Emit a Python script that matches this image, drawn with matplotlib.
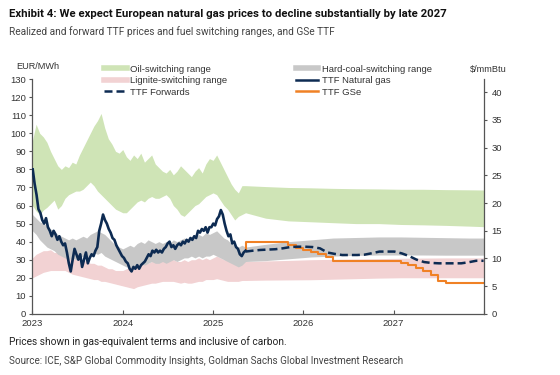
import matplotlib
matplotlib.use("Agg")
import matplotlib.pyplot as plt
import matplotlib.dates as mdates
from matplotlib.lines import Line2D
from matplotlib import font_manager
import numpy as np
import pandas as pd

# ---------------- data ----------------
# realized TTF (EUR/MWh), roughly weekly from Jan-2023 to mid-May 2025
ttf_start, ttf_end = "2023-01-02", "2025-05-12"
ttf_values = [80, 72, 66, 58, 56, 52, 50, 53, 48, 46, 43, 46, 44, 41, 43, 40, 38, 39, 34, 28,
              23.5, 30, 36, 33, 30, 33, 26, 30, 34, 28, 31, 33, 32, 35, 37, 46, 50, 55, 52, 50,
              47, 45, 42, 41, 38, 36, 34, 32, 31, 29, 28, 25, 23.5, 26, 25, 27, 25, 27, 28, 29,
              31, 33, 32, 35, 34, 35.5, 34, 35, 34, 36, 37, 39, 40, 37, 38, 36, 38, 39, 38, 40,
              39, 41, 40, 42, 41, 43, 42, 46, 45, 47, 46, 48, 45, 48, 48, 50, 49, 52.5, 54, 57.5,
              55, 50, 46, 43, 44, 39, 40, 37, 36, 33, 32, 34, 35]

# historical switching ranges (EUR/MWh), 60 points Jan-2023 .. mid-May 2025
hist_start, hist_end = "2023-01-01", "2025-05-12"
oil_hi_hist = [96, 105, 100, 98, 95, 90, 86, 82, 80, 82, 81, 84, 83, 88, 92, 96, 100, 104, 107, 111,
               103, 97, 94, 90, 89, 91, 87, 85, 88, 86, 89, 84, 86, 88, 83, 81, 79, 78, 80, 77,
               79, 82, 80, 78, 76, 79, 81, 78, 83, 86, 85, 88, 84, 80, 76, 72, 69, 67, 71, 71]
oil_lo_hist = [60, 57, 55, 57.5, 59, 61, 63, 58, 60, 64, 66, 67, 68, 68, 69, 71, 73, 71, 68, 66,
               64, 62, 60, 58, 57, 56, 56, 58, 60, 62, 63, 62, 64, 65, 64, 64, 65, 66, 64, 60,
               58, 55, 54, 56, 58, 60, 61, 63, 65, 66, 67, 66, 63, 60, 58, 55, 52, 54, 55, 56]
coal_hi_hist = [55, 53, 51, 50, 49, 47, 46, 44, 43, 42, 41, 42, 41, 42, 43, 42, 44, 45, 46, 45,
                44, 42, 40, 38, 37, 36, 37, 38, 37, 39, 40, 39, 41, 40, 39, 40, 39, 40, 39, 41,
                40, 41, 42, 41, 43, 42, 44, 43, 45, 44, 45, 46, 44, 42, 41, 39, 38, 37, 38, 37]
coal_lo_hist = [46, 44, 41, 39, 37, 36, 35, 33, 32, 31, 30, 31, 30, 31, 32, 31, 33, 34, 33, 34,
                32, 31, 30, 29, 28, 27, 26, 26, 25, 27, 28, 27, 28, 29, 28, 28, 29, 28, 29, 30,
                29, 30, 31, 31, 32, 31, 32, 31, 32, 32, 33, 32, 31, 30, 29, 28, 27, 26, 27, 29]
lig_hi_hist = [31, 33, 34, 35, 35, 35.5, 34, 34, 33, 32, 31, 31, 30, 30, 30, 29, 28, 28, 27, 27,
               26, 25, 25, 24, 24, 24, 25, 26, 27, 27, 28, 28, 28, 29, 29, 30, 30, 29, 30, 30,
               29, 29, 30, 29, 30, 30, 31, 30, 31, 30, 31, 32, 31, 30, 30, 29, 29, 28, 29, 29]
lig_lo_hist = [20, 21, 22, 23, 23.5, 24, 24, 24, 24, 24, 23, 22, 21.5, 21, 20.5, 20, 19.5, 19, 19, 18,
               18, 17.5, 17, 16.5, 16, 15.5, 15, 14.5, 14, 15, 15.5, 16, 16.5, 17, 17, 17.5, 18, 18, 18, 18,
               17.5, 17, 17.5, 17, 17, 17.5, 18, 18, 19, 19, 19, 19.5, 19, 18.5, 18, 18, 18, 18, 18.5, 18.5]

# forward switching ranges (EUR/MWh)
fwd_dates = ["2025-05-12", "2025-08-01", "2025-11-01", "2026-02-01", "2026-05-01", "2026-08-01",
             "2026-11-01", "2027-02-01", "2027-05-01", "2027-08-01", "2027-11-01", "2027-12-31"]
oil_hi_fwd = [71, 70.5, 70, 69.8, 69.5, 69.3, 69.2, 69, 69, 68.8, 68.7, 68.6]
oil_lo_fwd = [56, 53, 51.5, 51, 50.5, 50, 50, 49.5, 49.3, 49, 48.6, 48.3]
coal_hi_fwd = [37, 38.5, 40, 41, 42, 42.3, 42.6, 42.6, 42.4, 42.2, 42, 42]
coal_lo_fwd = [29, 29.5, 30.5, 31.5, 32, 32.4, 32.6, 32.6, 32.6, 32.5, 32.5, 32.5]
lig_hi_fwd = [29, 29.3, 29.6, 30, 30.2, 30.4, 30.6, 30.8, 30.9, 31, 31, 31]
lig_lo_fwd = [18.5, 18.7, 18.8, 18.9, 19.2, 19.5, 19.8, 20, 20, 20, 20, 20]

# TTF forwards (EUR/MWh), monthly
tf_dates = pd.date_range("2025-05-12", "2027-12-31", periods=33)
tf_values = [34.5, 35, 35.4, 35.6, 35.8, 36.3, 37, 37.2, 37.2, 37, 36.3, 34, 33.2, 32.6, 32.6, 32.6,
             32.8, 33.6, 34.5, 34.5, 34.5, 33.5, 32, 30, 28.7, 28.2, 28, 28, 28, 28, 28.6, 29.4, 29.4]

# GSe TTF forecast (EUR/MWh), monthly steps
gse_dates = ["2025-05-12", "2025-05-14", "2025-06-01", "2025-07-01", "2025-08-01", "2025-09-01",
             "2025-10-01", "2025-11-01", "2025-12-01", "2026-01-01", "2026-02-01", "2026-03-01",
             "2026-04-01", "2026-05-01", "2026-06-01", "2026-09-01", "2026-12-01", "2027-02-01",
             "2027-03-01", "2027-04-01", "2027-05-01", "2027-06-01", "2027-07-01", "2027-08-01",
             "2027-12-31"]
gse_values = [35.5, 39.6, 39.6, 39.6, 39.6, 39.6, 39.6, 38.3, 36.6, 35.2, 34.3, 33, 31.5, 29.3, 29.3,
              29.3, 29.3, 28.4, 27, 25.4, 23.6, 21.6, 18, 17.3, 17.3]

EUR_PER_USD_MMBTU = 3.07

# ---------------- style ----------------
avail = {f.name for f in font_manager.fontManager.ttflist}
narrow = "Liberation Sans Narrow" if "Liberation Sans Narrow" in avail else "Roboto"
base = "Liberation Sans" if "Liberation Sans" in avail else "DejaVu Sans"
plt.rcParams["font.family"] = [base, "DejaVu Sans"]

C_GREEN = "#cfe4b6"
C_GREY = "#c8c8c8"
C_PINK = "#f2d2d3"
C_NAVY = "#0d2b52"
C_ORANGE = "#f08125"
C_TXT = "#333333"

fig = plt.figure(figsize=(5.6, 3.75), dpi=100)
ax = fig.add_axes([0.058, 0.163, 0.806, 0.626])

hd = pd.date_range(hist_start, hist_end, periods=len(oil_hi_hist))
fd = pd.to_datetime(fwd_dates)
all_d = hd.append(fd[1:])

def cat(h, f):
    return np.array(list(h) + list(f[1:]))

ax.fill_between(all_d, cat(oil_lo_hist, oil_lo_fwd), cat(oil_hi_hist, oil_hi_fwd),
                color=C_GREEN, lw=0, zorder=1)
ax.fill_between(all_d, cat(lig_lo_hist, lig_lo_fwd), cat(lig_hi_hist, lig_hi_fwd),
                color=C_PINK, lw=0, zorder=1)
ax.fill_between(all_d, cat(coal_lo_hist, coal_lo_fwd), cat(coal_hi_hist, coal_hi_fwd),
                color=C_GREY, lw=0, zorder=2)

td = pd.date_range(ttf_start, ttf_end, periods=len(ttf_values))
ax.plot(td, ttf_values, color=C_NAVY, lw=1.9, zorder=5)
ax.plot(tf_dates, tf_values, color=C_NAVY, lw=1.8, ls=(0, (3.2, 1.6)), zorder=5)
ax.plot(pd.to_datetime(gse_dates), gse_values, color=C_ORANGE, lw=1.5,
        drawstyle="steps-post", zorder=4)

ax.set_xlim(pd.Timestamp("2023-01-01"), pd.Timestamp("2028-01-01"))
ax.set_ylim(0, 130)
ax.set_yticks(np.arange(0, 131, 10))
ax.set_xticks(pd.to_datetime(["2023-01-01", "2024-01-01", "2025-01-01", "2026-01-01",
                              "2027-01-01", "2028-01-01"]))
ax.set_xticklabels(["2023", "2024", "2025", "2026", "2027", ""])

for s in ["top", "right"]:
    ax.spines[s].set_visible(False)
for s in ["left", "bottom"]:
    ax.spines[s].set_color("#555555")
    ax.spines[s].set_linewidth(0.9)
ax.tick_params(axis="y", direction="out", length=2.5, width=0.8, color="#555555",
               labelsize=6.8, labelcolor=C_TXT, pad=2)
ax.tick_params(axis="x", direction="in", length=3, width=0.8, color="#555555",
               labelsize=6.8, labelcolor=C_TXT, pad=4)

ax2 = ax.twinx()
ax2.set_ylim(0, 130 / EUR_PER_USD_MMBTU)
ax2.set_yticks(np.arange(0, 41, 5))
for s in ["top", "left", "bottom"]:
    ax2.spines[s].set_visible(False)
ax2.spines["right"].set_color("#555555")
ax2.spines["right"].set_linewidth(0.9)
ax2.tick_params(axis="y", direction="out", length=2.5, width=0.8, color="#555555",
                labelsize=6.8, labelcolor=C_TXT, pad=3)

# axis unit labels
fig.text(0.029, 0.822, "EUR/MWh", fontsize=6.6, color=C_TXT, va="center", ha="left")
fig.text(0.84, 0.815, "$/mmBtu", fontsize=6.6, color=C_TXT, va="center", ha="left")

# legends
h1 = [Line2D([], [], color=C_GREEN, lw=4),
      Line2D([], [], color=C_PINK, lw=4),
      Line2D([], [], color=C_NAVY, lw=1.8, ls=(0, (3.2, 1.6)))]
l1 = ["Oil-switching range", "Lignite-switching range", "TTF Forwards"]
h2 = [Line2D([], [], color=C_GREY, lw=4),
      Line2D([], [], color=C_NAVY, lw=1.8),
      Line2D([], [], color=C_ORANGE, lw=1.8)]
l2 = ["Hard-coal-switching range", "TTF Natural gas", "TTF GSe"]
kw = dict(frameon=False, fontsize=6.8, handlelength=2.4, handletextpad=0.35,
          labelspacing=0.28, borderpad=0, borderaxespad=0, labelcolor=C_TXT)
leg1 = fig.legend(h1, l1, loc="upper left", bbox_to_anchor=(0.186, 0.828), **kw)
leg2 = fig.legend(h2, l2, loc="upper left", bbox_to_anchor=(0.528, 0.828), **kw)

# titles & notes
fig.text(0.016, 0.962, "Exhibit 4: We expect European natural gas prices to decline substantially by late 2027",
         fontsize=8.2, fontweight="bold", family=[narrow, "DejaVu Sans"], color="#111111",
         va="center", ha="left")
fig.text(0.016, 0.915, "Realized and forward TTF prices and fuel switching ranges, and GSe TTF",
         fontsize=7.3, family=[narrow, "DejaVu Sans"], color="#444444", va="center", ha="left")
fig.text(0.016, 0.088, "Prices shown in gas-equivalent terms and inclusive of carbon.",
         fontsize=7.3, family=[narrow, "DejaVu Sans"], color="#222222", va="center", ha="left")
fig.text(0.016, 0.037, "Source: ICE, S&P Global Commodity Insights, Goldman Sachs Global Investment Research",
         fontsize=7.1, family=[narrow, "DejaVu Sans"], color="#444444", va="center", ha="left")

fig.savefig("out.png", dpi=100)
